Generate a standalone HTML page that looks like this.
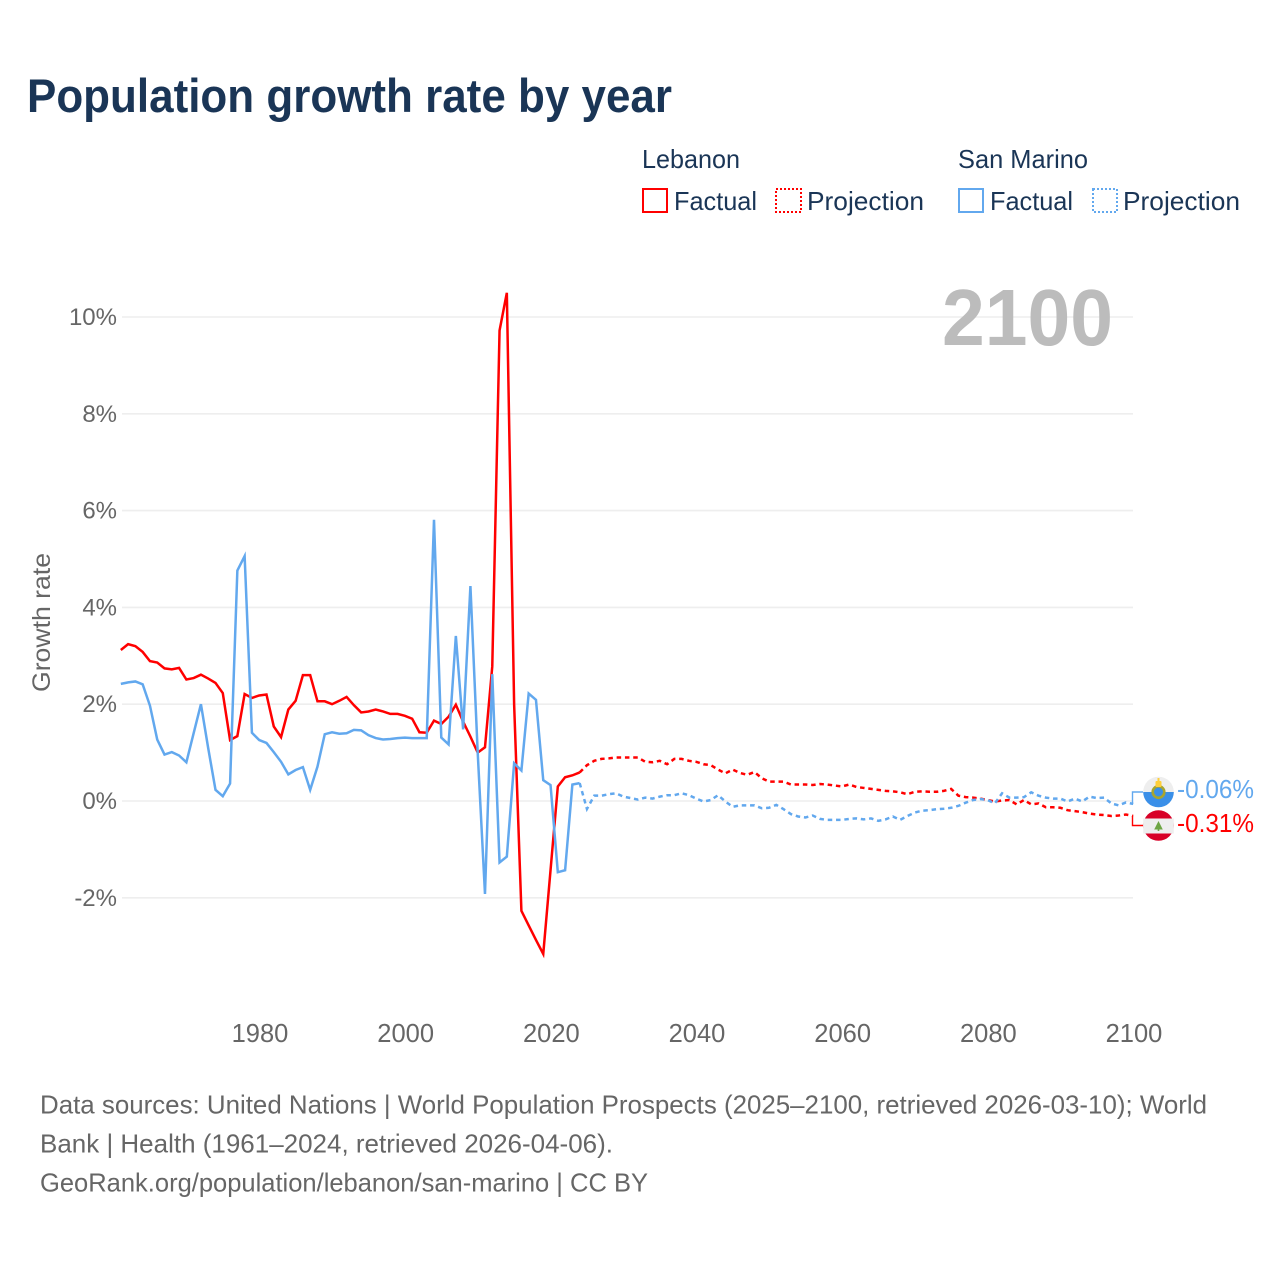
<!DOCTYPE html>
<html lang="en">
<head>
<meta charset="utf-8">
<title>Population growth rate by year</title>
<style>
  html, body { margin: 0; padding: 0; background: #fff; width: 1280px; height: 1280px; overflow: hidden; }
  svg { display: block; font-family: "Liberation Sans", sans-serif; }
</style>
</head>
<body>
<svg id="chart" xmlns="http://www.w3.org/2000/svg" width="1280" height="1280" viewBox="0 0 1280 1280">
  <rect x="0" y="0" width="1280" height="1280" fill="#ffffff"/>
  <text x="27" y="112" font-size="47" font-weight="700" fill="#1a3556" textLength="645" lengthAdjust="spacingAndGlyphs">Population growth rate by year</text>

  <g font-size="26" fill="#1a3556">
    <text x="642" y="168" textLength="98" lengthAdjust="spacingAndGlyphs">Lebanon</text>
    <text x="958" y="168" textLength="130" lengthAdjust="spacingAndGlyphs">San Marino</text>
    <rect x="643" y="189" width="24" height="23" fill="none" stroke="#ff0000" stroke-width="2"/>
    <text x="674" y="210" textLength="83" lengthAdjust="spacingAndGlyphs">Factual</text>
    <rect x="776" y="189" width="25" height="23" fill="none" stroke="#ff0000" stroke-width="2" stroke-dasharray="2 2"/>
    <text x="807" y="210" textLength="117" lengthAdjust="spacingAndGlyphs">Projection</text>
    <rect x="959" y="189" width="24" height="23" fill="none" stroke="#62a8ee" stroke-width="2"/>
    <text x="990" y="210" textLength="83" lengthAdjust="spacingAndGlyphs">Factual</text>
    <rect x="1093" y="189" width="24" height="23" fill="none" stroke="#62a8ee" stroke-width="2" stroke-dasharray="2 2"/>
    <text x="1123" y="210" textLength="117" lengthAdjust="spacingAndGlyphs">Projection</text>
  </g>

  <g id="grid"></g>
  <g id="yticks" font-size="24" fill="#666666" text-anchor="end"></g>
  <g id="xticks" font-size="25.5" fill="#666666" text-anchor="middle"></g>

  <text transform="translate(50 692) rotate(-90)" font-size="25" fill="#666666" textLength="139" lengthAdjust="spacingAndGlyphs">Growth rate</text>
  <text x="942" y="345" font-size="80" font-weight="700" fill="#bcbcbc" textLength="171" lengthAdjust="spacingAndGlyphs">2100</text>

  <g id="series"></g>
  <g id="connectors"></g>

  <g>
    <circle cx="1158.5" cy="792" r="15.3" fill="#eeeeee"/>
    <path d="M1143.2 792 H1173.8 A15.3 15.3 0 0 1 1143.2 792 Z" fill="#3a8fe8"/>
    <circle cx="1158.5" cy="792" r="5.8" fill="#3a8fe8" stroke="#a8a52f" stroke-width="2.6"/>
    <rect x="1155.5" y="781" width="6" height="6" rx="1" fill="#ffcf3a"/>
    <rect x="1157.5" y="778" width="2" height="3" fill="#ffcf3a"/>
  </g>
  <g>
    <circle cx="1158.5" cy="825.5" r="15.3" fill="#d80027"/>
    <rect x="1143.2" y="818.5" width="30.6" height="15" fill="#eeeeee"/>
    <path d="M1158.5 821 L1162.8 829.5 H1154.2 Z" fill="#6da544"/>
    <rect x="1157.7" y="828.5" width="1.6" height="2.5" fill="#6da544"/>
  </g>
  <text x="1177" y="798" font-size="26" fill="#62a8ee" textLength="77" lengthAdjust="spacingAndGlyphs">-0.06%</text>
  <text x="1177" y="832" font-size="26" fill="#ff0000" textLength="77" lengthAdjust="spacingAndGlyphs">-0.31%</text>

  <g font-size="26" fill="#666666">
    <text x="40" y="1113.5" textLength="1167" lengthAdjust="spacingAndGlyphs">Data sources: United Nations | World Population Prospects (2025–2100, retrieved 2026-03-10); World</text>
    <text x="40" y="1152.5" textLength="573" lengthAdjust="spacingAndGlyphs">Bank | Health (1961–2024, retrieved 2026-04-06).</text>
    <text x="40" y="1191.5" textLength="608" lengthAdjust="spacingAndGlyphs">GeoRank.org/population/lebanon/san-marino | CC BY</text>
  </g>
</svg>
<script>
const firstFactualYear = 1961;
const firstProjectionYear = 2025;
const yTickValues = [10, 8, 6, 4, 2, 0, -2];
const yTickLabels = ['10%', '8%', '6%', '4%', '2%', '0%', '-2%'];
const xTickValues = [1980, 2000, 2020, 2040, 2060, 2080, 2100];
const xTickLabels = ['1980', '2000', '2020', '2040', '2060', '2080', '2100'];

const lebanonFactual = [3.12, 3.24, 3.20, 3.08, 2.89, 2.86, 2.74, 2.72, 2.75, 2.51, 2.54, 2.61, 2.53, 2.44, 2.23, 1.26,
  1.34, 2.21, 2.13, 2.18, 2.20, 1.54, 1.32, 1.89, 2.07, 2.60, 2.60, 2.06, 2.06, 2.00, 2.07, 2.15,
  1.98, 1.83, 1.85, 1.89, 1.85, 1.80, 1.80, 1.76, 1.70, 1.42, 1.41, 1.66, 1.59, 1.74, 1.99, 1.64,
  1.33, 1.00, 1.11, 2.78, 9.72, 10.50, 2.00, -2.27, -2.57, -2.87, -3.16, -1.43, 0.30, 0.49, 0.53, 0.59];
const lebanonProjection = [0.74, 0.83, 0.87, 0.88, 0.90, 0.90, 0.90, 0.90, 0.81, 0.80, 0.83, 0.76, 0.87, 0.87, 0.83, 0.81,
  0.76, 0.74, 0.65, 0.57, 0.65, 0.58, 0.54, 0.60, 0.47, 0.40, 0.40, 0.40, 0.34, 0.34, 0.34, 0.33,
  0.35, 0.34, 0.32, 0.30, 0.34, 0.29, 0.27, 0.25, 0.23, 0.21, 0.20, 0.18, 0.14, 0.19, 0.20, 0.19,
  0.19, 0.21, 0.25, 0.11, 0.08, 0.07, 0.05, 0.02, -0.01, 0.01, 0.02, -0.07, 0.02, -0.07, -0.05, -0.13,
  -0.13, -0.14, -0.19, -0.21, -0.23, -0.26, -0.28, -0.29, -0.31, -0.30, -0.28, -0.31];

const sanMarinoFactual = [2.42, 2.45, 2.47, 2.41, 1.97, 1.27, 0.96, 1.01, 0.94, 0.80, 1.40, 2.00, 1.09, 0.23, 0.10, 0.36,
  4.76, 5.06, 1.41, 1.26, 1.20, 1.01, 0.81, 0.55, 0.64, 0.70, 0.23, 0.71, 1.38, 1.42, 1.39, 1.40,
  1.47, 1.46, 1.36, 1.30, 1.27, 1.28, 1.30, 1.31, 1.30, 1.30, 1.30, 5.81, 1.31, 1.17, 3.41, 1.48,
  4.44, 1.00, -1.92, 2.62, -1.27, -1.15, 0.78, 0.63, 2.22, 2.09, 0.43, 0.33, -1.47, -1.43, 0.34, 0.37];
const sanMarinoProjection = [-0.165, 0.11, 0.11, 0.14, 0.16, 0.09, 0.06, 0.03, 0.07, 0.05, 0.09, 0.12, 0.12, 0.16, 0.12, 0.05,
  -0.01, 0.02, 0.12, -0.01, -0.12, -0.09, -0.09, -0.09, -0.15, -0.14, -0.08, -0.17, -0.27, -0.32, -0.34, -0.30,
  -0.37, -0.39, -0.39, -0.39, -0.37, -0.36, -0.38, -0.36, -0.41, -0.38, -0.32, -0.39, -0.31, -0.24, -0.20, -0.19,
  -0.17, -0.16, -0.14, -0.10, -0.035, 0.02, 0.04, 0.02, -0.05, 0.16, 0.07, 0.07, 0.08, 0.18, 0.11, 0.07,
  0.05, 0.05, -0.01, 0.05, -0.01, 0.09, 0.06, 0.07, -0.05, -0.09, -0.03, -0.06];

const RED = '#ff0000';
const BLUE = '#62a8ee';
const SVG_NS = 'http://www.w3.org/2000/svg';

function xScale(year) { return 259.2 + (year - 1980) * (1134 - 260) / 120; }
function yScale(value) { return 801 - value * 48.4; }

function seriesPath(startYear, values, prefix) {
  const pts = prefix ? [prefix] : [];
  values.forEach(function (v, i) {
    pts.push(xScale(startYear + i).toFixed(2) + ' ' + yScale(v).toFixed(2));
  });
  return 'M' + pts.join(' L');
}

function lastPoint(startYear, values) {
  const i = values.length - 1;
  return xScale(startYear + i).toFixed(2) + ' ' + yScale(values[i]).toFixed(2);
}

const gridGroup = document.getElementById('grid');
const yTickGroup = document.getElementById('yticks');
yTickValues.forEach(function (v, i) {
  const line = document.createElementNS(SVG_NS, 'line');
  
  
  line.setAttribute('x1', 122);
  line.setAttribute('x2', 1133);
  line.setAttribute('y1', yScale(v));
  line.setAttribute('y2', yScale(v));
  line.setAttribute('stroke', '#eeeeee');
  line.setAttribute('stroke-width', 1.6);
  gridGroup.appendChild(line);
  const label = document.createElementNS(SVG_NS, 'text');
  
  
  label.setAttribute('x', 117);
  label.setAttribute('y', yScale(v) + 8);
  label.textContent = yTickLabels[i];
  yTickGroup.appendChild(label);
});

const xTickGroup = document.getElementById('xticks');
xTickValues.forEach(function (year, i) {
  const label = document.createElementNS(SVG_NS, 'text');
  
  
  label.setAttribute('x', xScale(year) + 0.8);
  label.setAttribute('y', 1042);
  label.textContent = xTickLabels[i];
  xTickGroup.appendChild(label);
});

const seriesGroup = document.getElementById('series');

const sanMarinoFactualLine = document.createElementNS(SVG_NS, 'path');


sanMarinoFactualLine.setAttribute('d', seriesPath(firstFactualYear, sanMarinoFactual));
sanMarinoFactualLine.setAttribute('fill', 'none');
sanMarinoFactualLine.setAttribute('stroke', BLUE);
sanMarinoFactualLine.setAttribute('stroke-width', 2.5);
sanMarinoFactualLine.setAttribute('stroke-linejoin', 'miter');
sanMarinoFactualLine.setAttribute('stroke-miterlimit', 4);

const lebanonFactualLine = document.createElementNS(SVG_NS, 'path');


lebanonFactualLine.setAttribute('d', seriesPath(firstFactualYear, lebanonFactual));
lebanonFactualLine.setAttribute('fill', 'none');
lebanonFactualLine.setAttribute('stroke', RED);
lebanonFactualLine.setAttribute('stroke-width', 2.5);
lebanonFactualLine.setAttribute('stroke-linejoin', 'miter');
lebanonFactualLine.setAttribute('stroke-miterlimit', 4);

const lebanonProjectionLine = document.createElementNS(SVG_NS, 'path');


lebanonProjectionLine.setAttribute('d', seriesPath(firstProjectionYear, lebanonProjection, lastPoint(firstFactualYear, lebanonFactual)));
lebanonProjectionLine.setAttribute('fill', 'none');
lebanonProjectionLine.setAttribute('stroke', RED);
lebanonProjectionLine.setAttribute('stroke-width', 2.5);
lebanonProjectionLine.setAttribute('stroke-dasharray', '4.5 3.8');

const sanMarinoProjectionLine = document.createElementNS(SVG_NS, 'path');


sanMarinoProjectionLine.setAttribute('d', seriesPath(firstProjectionYear, sanMarinoProjection, lastPoint(firstFactualYear, sanMarinoFactual)));
sanMarinoProjectionLine.setAttribute('fill', 'none');
sanMarinoProjectionLine.setAttribute('stroke', BLUE);
sanMarinoProjectionLine.setAttribute('stroke-width', 2.5);
sanMarinoProjectionLine.setAttribute('stroke-dasharray', '4.5 3.8');

seriesGroup.appendChild(lebanonFactualLine);
seriesGroup.appendChild(lebanonProjectionLine);
seriesGroup.appendChild(sanMarinoFactualLine);
seriesGroup.appendChild(sanMarinoProjectionLine);

const connectorGroup = document.getElementById('connectors');
const endX = xScale(2100) - 0.7;

const sanMarinoConnector = document.createElementNS(SVG_NS, 'path');


sanMarinoConnector.setAttribute('d', 'M' + endX + ' ' + yScale(sanMarinoProjection[sanMarinoProjection.length - 1]) + ' V792 H1143');
sanMarinoConnector.setAttribute('fill', 'none');
sanMarinoConnector.setAttribute('stroke', BLUE);
sanMarinoConnector.setAttribute('stroke-width', 1.4);
connectorGroup.appendChild(sanMarinoConnector);

const lebanonConnector = document.createElementNS(SVG_NS, 'path');


lebanonConnector.setAttribute('d', 'M' + endX + ' ' + yScale(lebanonProjection[lebanonProjection.length - 1]) + ' V825.5 H1143');
lebanonConnector.setAttribute('fill', 'none');
lebanonConnector.setAttribute('stroke', RED);
lebanonConnector.setAttribute('stroke-width', 1.4);
connectorGroup.appendChild(lebanonConnector);
</script>
</body>
</html>
